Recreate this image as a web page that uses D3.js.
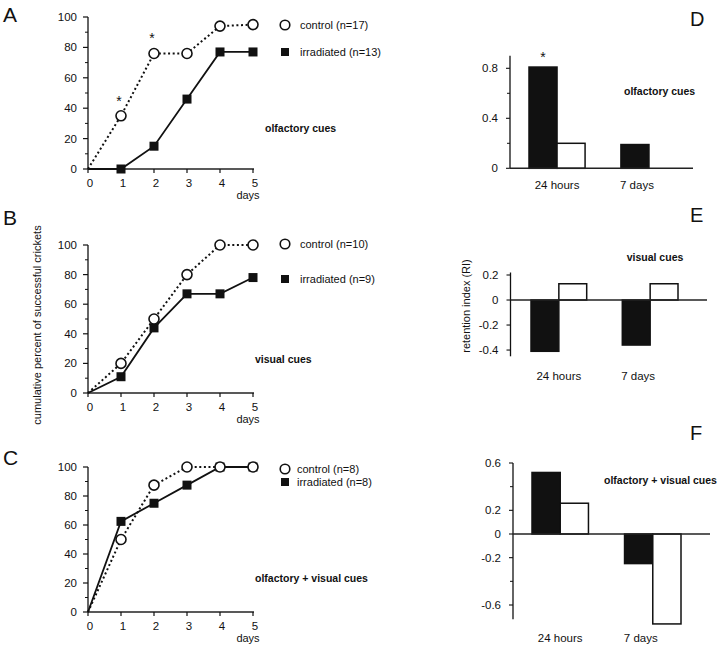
<!DOCTYPE html>
<html><head><meta charset="utf-8">
<script src="https://cdn.jsdelivr.net/npm/d3@7"></script>
<style>
html,body{margin:0;padding:0;background:#fff;}
text{font-family:"Liberation Sans",Arial,Helvetica,sans-serif;fill:#111;}
</style></head>
<body><svg id="c" width="720" height="646"></svg>
<script>
// ---------- data ----------
const days = [0, 1, 2, 3, 4, 5];
const dayTicks = [0, 1, 2, 3, 4, 5];
const pctTicks = [0, 20, 40, 60, 80, 100];
const pctMinor = [10, 30, 50, 70, 90];

const controlA = [0, 35, 76, 76, 94, 95];
const irradA   = [0, 0, 15, 46, 77, 77];
const controlB = [0, 20, 50, 80, 100, 100];
const irradB   = [0, 11, 44, 67, 67, 78];
const controlC = [0, 50, 87.5, 100, 100, 100];
const irradC   = [0, 62.5, 75, 87.5, 100, 100];

const legendA = ["control (n=17)", "irradiated (n=13)"];
const legendB = ["control (n=10)", "irradiated (n=9)"];
const legendC = ["control (n=8)", "irradiated (n=8)"];

const groups = ["24 hours", "7 days"];
const series = ["irradiated", "control"];
const riIrradD = [0.81, 0.19];
const riControlD = [0.20, 0];
const riIrradE = [-0.41, -0.36];
const riControlE = [0.13, 0.13];
const riIrradF = [0.52, -0.25];
const riControlF = [0.26, -0.76];

const ticksD = [0, 0.4, 0.8];       const minorD = [0.2, 0.6];
const ticksE = [-0.4, -0.2, 0, 0.2]; const minorE = [];
const ticksF = [-0.6, -0.2, 0, 0.2, 0.6]; const minorF = [-0.4, 0.4];

// ---------- drawing ----------
const svg = d3.select("#c");
const FS = 11.5;
const LFS = 11;
const BFS = 10.5;

function linePanel(o) {
  const g = svg.append("g");
  const x = d3.scaleLinear().domain([0, 5]).range([88, 253]);
  const y = d3.scaleLinear().domain([0, 100]).range([o.y0, o.y1]);
  // y axis
  g.append("line").attr("x1", x(0)).attr("x2", x(0)).attr("y1", y(0)).attr("y2", y(100))
    .attr("stroke", "#111").attr("stroke-width", 1.3);
  pctTicks.forEach(t => {
    g.append("line").attr("x1", x(0) - 5).attr("x2", x(0)).attr("y1", y(t)).attr("y2", y(t))
      .attr("stroke", "#111").attr("stroke-width", 1.2);
    g.append("text").attr("x", x(0) - 11).attr("y", y(t)).attr("dy", "0.35em")
      .attr("text-anchor", "end").attr("font-size", FS).text(t);
  });
  pctMinor.forEach(t => {
    g.append("line").attr("x1", x(0) - 3).attr("x2", x(0)).attr("y1", y(t)).attr("y2", y(t))
      .attr("stroke", "#111").attr("stroke-width", 1);
  });
  // x axis
  g.append("line").attr("x1", x(0)).attr("x2", x(5) + 1).attr("y1", y(0)).attr("y2", y(0))
    .attr("stroke", "#222").attr("stroke-width", 1.4);
  dayTicks.forEach(t => {
    g.append("line").attr("x1", x(t)).attr("x2", x(t)).attr("y1", y(0)).attr("y2", y(0) + 4)
      .attr("stroke", "#111").attr("stroke-width", 1.2);
    g.append("text").attr("x", x(t) + 2).attr("y", y(0) + 14).attr("dy", "0.35em")
      .attr("text-anchor", "middle").attr("font-size", FS).text(t);
  });
  g.append("text").attr("x", 248).attr("y", y(0) + 26).attr("dy", "0.35em")
    .attr("text-anchor", "middle").attr("font-size", LFS).text("days");

  const ln = d3.line().x((d, i) => x(days[i])).y(d => y(d));
  g.append("path").attr("d", ln(o.control)).attr("fill", "none").attr("stroke", "#111")
    .attr("stroke-width", 2).attr("stroke-dasharray", "2,2.6");
  g.append("path").attr("d", ln(o.irrad)).attr("fill", "none").attr("stroke", "#111")
    .attr("stroke-width", 1.8);
  g.selectAll(".sq").data(o.irrad.slice(1)).enter().append("rect")
    .attr("x", (d, i) => x(days[i + 1]) - 4.5).attr("y", d => y(d) - 4.5)
    .attr("width", 9).attr("height", 9).attr("fill", "#111");
  g.selectAll(".ci").data(o.control.slice(1)).enter().append("circle")
    .attr("cx", (d, i) => x(days[i + 1])).attr("cy", d => y(d)).attr("r", 5)
    .attr("fill", "#fff").attr("stroke", "#111").attr("stroke-width", 1.6);
  (o.stars || []).forEach(i => {
    g.append("text").attr("x", x(days[i]) - 2).attr("y", y(o.control[i]) - 10)
      .attr("text-anchor", "middle").attr("font-size", 14).text("*");
  });
  // legend
  g.append("circle").attr("cx", 285).attr("cy", o.leg[0]).attr("r", 4.8)
    .attr("fill", "#fff").attr("stroke", "#111").attr("stroke-width", 1.6);
  g.append("rect").attr("x", 281).attr("y", o.leg[1] - 4).attr("width", 8).attr("height", 8).attr("fill", "#111");
  g.append("text").attr("x", o.legX).attr("y", o.leg[0]).attr("dy", "0.35em").attr("font-size", LFS).text(o.legend[0]);
  g.append("text").attr("x", o.legX).attr("y", o.leg[1]).attr("dy", "0.35em").attr("font-size", LFS).text(o.legend[1]);
  g.append("text").attr("x", o.tx).attr("y", o.ty).attr("dy", "0.35em").attr("font-size", BFS)
    .attr("font-weight", "bold").text(o.title);
  g.append("text").attr("x", 3).attr("y", o.ly).attr("font-size", 21).text(o.letter);
}

linePanel({y0: 169, y1: 17, control: controlA, irrad: irradA, stars: [1, 2], leg: [25, 52], legX: 300,
  legend: legendA, title: "olfactory cues", tx: 265, ty: 128, letter: "A", ly: 22});
linePanel({y0: 393, y1: 245, control: controlB, irrad: irradB, leg: [244, 279], legX: 300,
  legend: legendB, title: "visual cues", tx: 255, ty: 359, letter: "B", ly: 225});
linePanel({y0: 612, y1: 467, control: controlC, irrad: irradC, leg: [469, 482], legX: 297,
  legend: legendC, title: "olfactory + visual cues", tx: 255, ty: 578, letter: "C", ly: 465});

svg.append("text").attr("transform", "translate(41,325) rotate(-90)").attr("text-anchor", "middle")
  .attr("font-size", 11).text("cumulative percent of successful crickets");
svg.append("text").attr("transform", "translate(470,306) rotate(-90)").attr("text-anchor", "middle")
  .attr("font-size", 11).text("retention index (RI)");

function barPanel(o) {
  const g = svg.append("g");
  const y = d3.scaleLinear().domain(o.dom).range(o.yr);
  const xg = d3.scaleBand().domain(groups).range(o.xr).paddingInner(0.39).paddingOuter(0);
  const xs = d3.scaleBand().domain(series).range([0, xg.bandwidth()]);
  const vals = {irradiated: o.irrad, control: o.control};
  groups.forEach((grp, gi) => {
    series.forEach(s => {
      const v = vals[s][gi];
      if (v === 0) return;
      g.append("rect").attr("x", xg(grp) + xs(s)).attr("width", xs.bandwidth())
        .attr("y", y(Math.max(0, v))).attr("height", Math.abs(y(v) - y(0)))
        .attr("fill", s === "irradiated" ? "#111" : "#fff").attr("stroke", "#111").attr("stroke-width", 1.5);
    });
    g.append("text").attr("x", xg(grp) + xg.bandwidth() / 2 + (gi ? -12 : 0)).attr("y", o.labY)
      .attr("dy", "0.35em").attr("text-anchor", "middle").attr("font-size", FS).text(grp);
  });
  // axes
  g.append("line").attr("x1", o.ax).attr("x2", o.ax).attr("y1", y(o.dom[0])).attr("y2", y(o.dom[1]))
    .attr("stroke", "#111").attr("stroke-width", 1.3);
  g.append("line").attr("x1", o.ax).attr("x2", o.xEnd).attr("y1", y(0)).attr("y2", y(0))
    .attr("stroke", "#222").attr("stroke-width", 1.4);
  o.ticks.forEach(t => {
    g.append("line").attr("x1", o.ax - 4).attr("x2", o.ax).attr("y1", y(t)).attr("y2", y(t))
      .attr("stroke", "#111").attr("stroke-width", 1.1);
    g.append("text").attr("x", o.ax - 12).attr("y", y(t)).attr("dy", "0.35em")
      .attr("text-anchor", "end").attr("font-size", FS).text(t);
  });
  o.minor.forEach(t => {
    g.append("line").attr("x1", o.ax - 3).attr("x2", o.ax).attr("y1", y(t)).attr("y2", y(t))
      .attr("stroke", "#111").attr("stroke-width", 1);
  });
  g.append("text").attr("x", o.tx).attr("y", o.ty).attr("dy", "0.35em").attr("font-size", BFS)
    .attr("text-anchor", o.ta || "start").attr("font-weight", "bold").text(o.title);
  g.append("text").attr("x", 690).attr("y", o.ly).attr("font-size", 20).text(o.letter);
  if (o.star) {
    g.append("text").attr("x", xg(groups[0]) + xs("irradiated") + xs.bandwidth() / 2)
      .attr("y", y(o.irrad[0]) - 5).attr("text-anchor", "middle").attr("font-size", 14).text("*");
  }
}

barPanel({dom: [0, 0.9], yr: [168.3, 55.8], xr: [529, 677], ax: 510, xEnd: 693, irrad: riIrradD, control: riControlD,
  ticks: ticksD, minor: minorD, labY: 185, title: "olfactory cues", tx: 624, ty: 91, letter: "D", ly: 26, star: true});
barPanel({dom: [-0.45, 0.22], yr: [356.3, 272.5], xr: [531, 678], ax: 510.5, xEnd: 707, irrad: riIrradE, control: riControlE,
  ticks: ticksE, minor: minorE, labY: 376, title: "visual cues", tx: 655, ty: 257, ta: "middle", letter: "E", ly: 222});
barPanel({dom: [-0.72, 0.6], yr: [619.2, 463], xr: [532, 681], ax: 513, xEnd: 710, irrad: riIrradF, control: riControlF,
  ticks: ticksF, minor: minorF, labY: 638, title: "olfactory + visual cues", tx: 604, ty: 480, letter: "F", ly: 440});
</script></body></html>
